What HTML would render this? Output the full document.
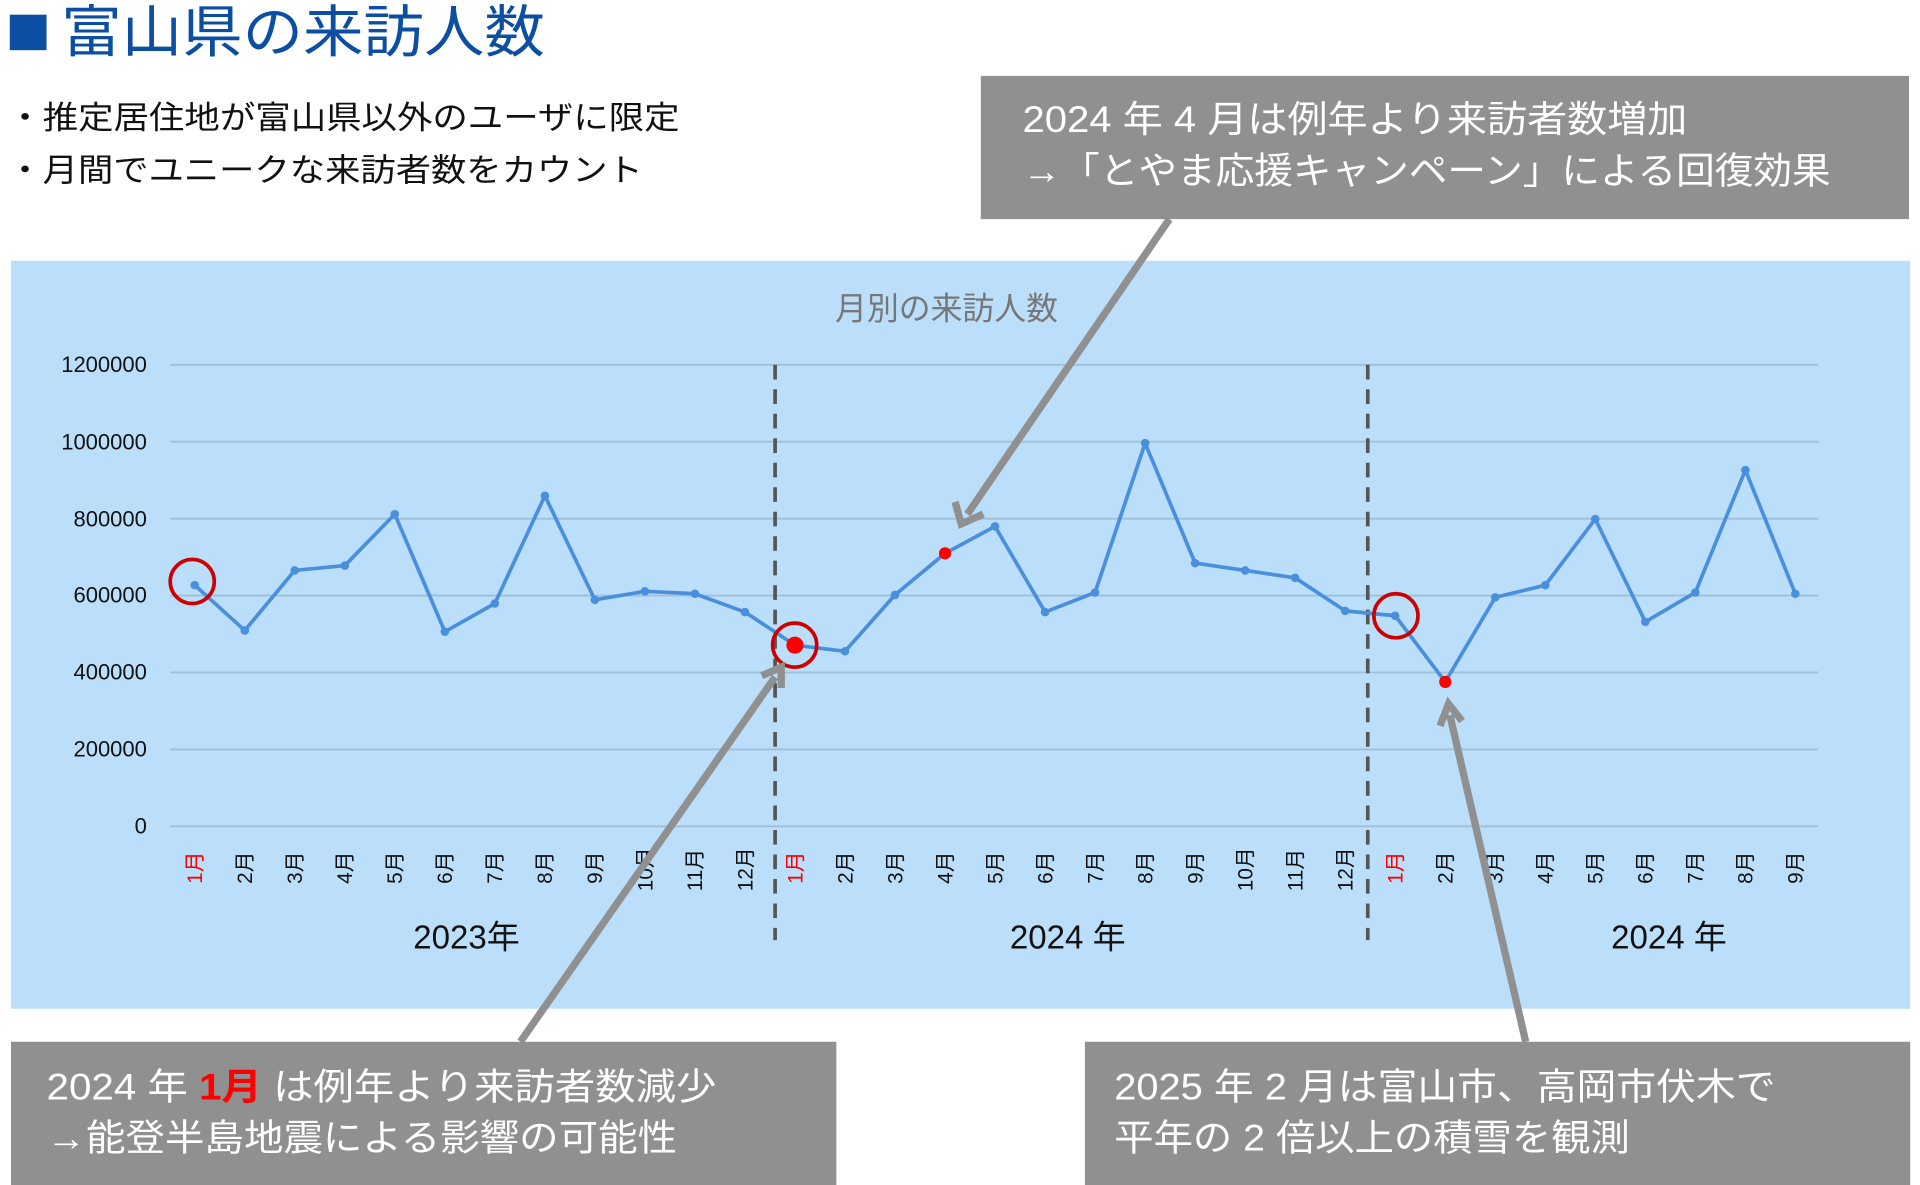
<!DOCTYPE html>
<html><head><meta charset="utf-8"><style>
html,body{margin:0;padding:0;background:#fff;}
svg{display:block;}
text{font-family:"Liberation Sans","Noto Sans CJK JP",sans-serif;}
</style></head><body>
<svg width="1920" height="1185" viewBox="0 0 1568 968" preserveAspectRatio="none" xmlns="http://www.w3.org/2000/svg">
<rect x="0" y="0" width="1568" height="968" fill="#fff"/>
<rect x="8" y="12" width="30" height="29" fill="#0b4ea2"/>
<text x="50" y="42" font-size="46" fill="#0b4ea2" textLength="395" lengthAdjust="spacingAndGlyphs">富山県の来訪人数</text>
<text x="6" y="105" font-size="26" fill="#111" textLength="549" lengthAdjust="spacingAndGlyphs">・推定居住地が富山県以外のユーザに限定</text>
<text x="6" y="148" font-size="26" fill="#111" textLength="519" lengthAdjust="spacingAndGlyphs">・月間でユニークな来訪者数をカウント</text>

<rect x="801" y="62" width="758" height="117" fill="#909090"/>
<text x="835" y="108" font-size="30" fill="#fff" textLength="543" lengthAdjust="spacingAndGlyphs">2024 年 4 月は例年より来訪者数増加</text>
<text x="835" y="150" font-size="30" fill="#fff" textLength="660" lengthAdjust="spacingAndGlyphs">→「とやま応援キャンペーン」による回復効果</text>

<rect x="9" y="213" width="1551" height="611" fill="#bbdffb"/>
<text x="773" y="261" font-size="26" fill="#777" text-anchor="middle">月別の来訪人数</text>

<g stroke="#9fbfd8" stroke-width="1.5">
<line x1="139" x2="1485" y1="298" y2="298"/><line x1="139" x2="1485" y1="360.8" y2="360.8"/>
<line x1="139" x2="1485" y1="423.7" y2="423.7"/><line x1="139" x2="1485" y1="486.5" y2="486.5"/>
<line x1="139" x2="1485" y1="549.3" y2="549.3"/><line x1="139" x2="1485" y1="612.2" y2="612.2"/>
<line x1="139" x2="1485" y1="675" y2="675"/>
</g>
<g font-size="18" fill="#111" text-anchor="end">
<text x="120" y="304">1200000</text><text x="120" y="367">1000000</text><text x="120" y="430">800000</text>
<text x="120" y="492">600000</text><text x="120" y="555">400000</text><text x="120" y="618">200000</text><text x="120" y="681">0</text>
</g>

<g stroke="#555" stroke-width="3" stroke-dasharray="12,8">
<line x1="633" y1="298" x2="633" y2="768"/><line x1="1117" y1="298" x2="1117" y2="768"/>
</g>

<polyline fill="none" stroke="#4a8fdc" stroke-width="3" stroke-linejoin="round" points="159,478 199.9,515 240.7,466 281.6,462 322.4,420 363.3,516 404.1,493 445,405 485.8,490 526.7,483 567.5,485 608.4,500 649.2,527 690.1,532 730.9,486 771.8,452 812.6,430 853.5,500 894.3,484 935.2,362 976,460 1016.9,466 1057.7,472 1098.6,499 1139.4,503 1180.3,557 1221.1,488 1262,478 1302.8,424 1343.7,508 1384.5,484 1425.4,384 1466.2,485"/>
<g fill="#4a8fdc">
<circle cx="159" cy="478" r="3.5"/><circle cx="199.9" cy="515" r="3.5"/><circle cx="240.7" cy="466" r="3.5"/><circle cx="281.6" cy="462" r="3.5"/><circle cx="322.4" cy="420" r="3.5"/><circle cx="363.3" cy="516" r="3.5"/><circle cx="404.1" cy="493" r="3.5"/><circle cx="445" cy="405" r="3.5"/><circle cx="485.8" cy="490" r="3.5"/><circle cx="526.7" cy="483" r="3.5"/><circle cx="567.5" cy="485" r="3.5"/><circle cx="608.4" cy="500" r="3.5"/><circle cx="690.1" cy="532" r="3.5"/><circle cx="730.9" cy="486" r="3.5"/><circle cx="812.6" cy="430" r="3.5"/><circle cx="853.5" cy="500" r="3.5"/><circle cx="894.3" cy="484" r="3.5"/><circle cx="935.2" cy="362" r="3.5"/><circle cx="976" cy="460" r="3.5"/><circle cx="1016.9" cy="466" r="3.5"/><circle cx="1057.7" cy="472" r="3.5"/><circle cx="1098.6" cy="499" r="3.5"/><circle cx="1139.4" cy="503" r="3.5"/><circle cx="1221.1" cy="488" r="3.5"/><circle cx="1262" cy="478" r="3.5"/><circle cx="1302.8" cy="424" r="3.5"/><circle cx="1343.7" cy="508" r="3.5"/><circle cx="1384.5" cy="484" r="3.5"/><circle cx="1425.4" cy="384" r="3.5"/><circle cx="1466.2" cy="485" r="3.5"/>
</g>
<g fill="#f00">
<circle cx="649.2" cy="527" r="7"/><circle cx="771.8" cy="452" r="5"/><circle cx="1180.3" cy="557" r="5"/>
</g>
<g fill="none" stroke="#c00" stroke-width="3">
<circle cx="157" cy="475" r="18"/><circle cx="649" cy="527" r="18"/><circle cx="1140" cy="503" r="18"/>
</g>

<g font-size="17" fill="#111">
<text transform="translate(165,722) rotate(-90)" fill="#f00">1月</text>
<text transform="translate(205.9,722) rotate(-90)">2月</text>
<text transform="translate(246.7,722) rotate(-90)">3月</text>
<text transform="translate(287.6,722) rotate(-90)">4月</text>
<text transform="translate(328.4,722) rotate(-90)">5月</text>
<text transform="translate(369.3,722) rotate(-90)">6月</text>
<text transform="translate(410.1,722) rotate(-90)">7月</text>
<text transform="translate(451,722) rotate(-90)">8月</text>
<text transform="translate(491.8,722) rotate(-90)">9月</text>
<text transform="translate(532.7,728) rotate(-90)">10月</text>
<text transform="translate(573.5,728) rotate(-90)">11月</text>
<text transform="translate(614.4,728) rotate(-90)">12月</text>
<text transform="translate(655.2,722) rotate(-90)" fill="#f00">1月</text>
<text transform="translate(696.1,722) rotate(-90)">2月</text>
<text transform="translate(736.9,722) rotate(-90)">3月</text>
<text transform="translate(777.8,722) rotate(-90)">4月</text>
<text transform="translate(818.6,722) rotate(-90)">5月</text>
<text transform="translate(859.5,722) rotate(-90)">6月</text>
<text transform="translate(900.3,722) rotate(-90)">7月</text>
<text transform="translate(941.2,722) rotate(-90)">8月</text>
<text transform="translate(982,722) rotate(-90)">9月</text>
<text transform="translate(1022.9,728) rotate(-90)">10月</text>
<text transform="translate(1063.7,728) rotate(-90)">11月</text>
<text transform="translate(1104.6,728) rotate(-90)">12月</text>
<text transform="translate(1145.4,722) rotate(-90)" fill="#f00">1月</text>
<text transform="translate(1186.3,722) rotate(-90)">2月</text>
<text transform="translate(1227.1,722) rotate(-90)">3月</text>
<text transform="translate(1268,722) rotate(-90)">4月</text>
<text transform="translate(1308.8,722) rotate(-90)">5月</text>
<text transform="translate(1349.7,722) rotate(-90)">6月</text>
<text transform="translate(1390.5,722) rotate(-90)">7月</text>
<text transform="translate(1431.4,722) rotate(-90)">8月</text>
<text transform="translate(1472.2,722) rotate(-90)">9月</text>
</g>
<g font-size="27" fill="#111" text-anchor="middle">
<text x="381" y="775">2023年</text><text x="872" y="775">2024 年</text><text x="1363" y="775">2024 年</text>
</g>

<rect x="9" y="851" width="674" height="117" fill="#909090"/>
<text x="38" y="898" font-size="30" fill="#fff" textLength="547" lengthAdjust="spacingAndGlyphs">2024 年 <tspan fill="#f00" font-weight="bold">1月</tspan> は例年より来訪者数減少</text>
<text x="38" y="940" font-size="30" fill="#fff" textLength="515" lengthAdjust="spacingAndGlyphs">→能登半島地震による影響の可能性</text>
<rect x="886" y="851" width="674" height="117" fill="#909090"/>
<text x="910" y="898" font-size="30" fill="#fff" textLength="540" lengthAdjust="spacingAndGlyphs">2025 年 2 月は富山市、高岡市伏木で</text>
<text x="910" y="940" font-size="30" fill="#fff" textLength="421" lengthAdjust="spacingAndGlyphs">平年の 2 倍以上の積雪を観測</text>

<g stroke="#909090" stroke-width="6" fill="none" stroke-linecap="butt">
<line x1="955" y1="179" x2="790" y2="420"/>
<polyline points="780,410 785,428 803,420"/>
<line x1="425" y1="851" x2="633" y2="553"/>
<polyline points="622,552 638,545 638,562"/>
<line x1="1246" y1="851" x2="1184" y2="584"/>
<polyline points="1176,593 1183,575 1194,589"/>
</g>
</svg>
</body></html>
